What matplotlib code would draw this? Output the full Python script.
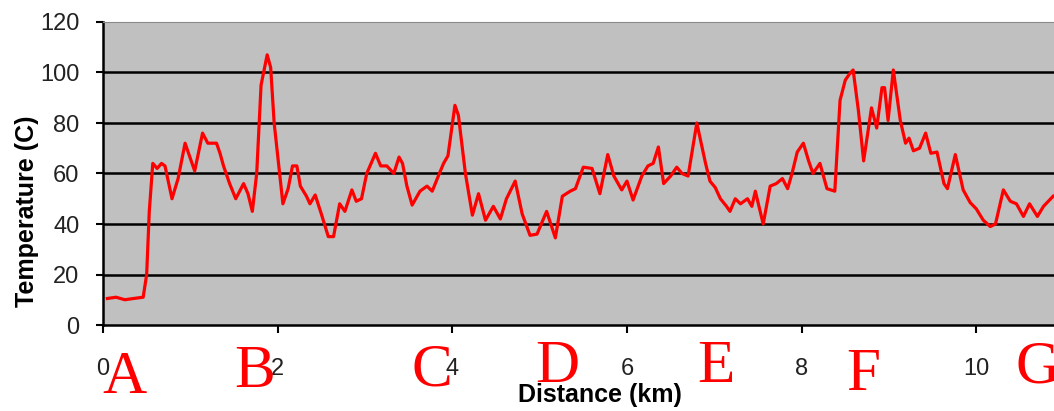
import matplotlib
matplotlib.use("Agg")
import matplotlib.pyplot as plt

# distance (km) and temperature (C)
distance = [0.05, 0.15, 0.25, 0.35, 0.46, 0.50, 0.53, 0.57, 0.62, 0.67, 0.71, 0.79, 0.86, 0.94, 0.99,
            1.05, 1.14, 1.20, 1.30, 1.34, 1.38, 1.45, 1.52, 1.61, 1.66, 1.71, 1.76, 1.81, 1.88, 1.92,
            1.96, 2.06, 2.12, 2.17, 2.22, 2.26, 2.33, 2.37, 2.43, 2.50, 2.58, 2.64, 2.71, 2.77, 2.85,
            2.90, 2.96, 3.02, 3.12, 3.18, 3.25, 3.33, 3.39, 3.43, 3.48, 3.54, 3.63, 3.71, 3.77, 3.84,
            3.90, 3.95, 4.03, 4.07, 4.15, 4.23, 4.30, 4.38, 4.47, 4.55, 4.62, 4.72, 4.80, 4.89, 4.97,
            5.08, 5.18, 5.26, 5.35, 5.41, 5.50, 5.60, 5.69, 5.78, 5.85, 5.94, 6.00, 6.07, 6.17, 6.24,
            6.30, 6.36, 6.42, 6.50, 6.57, 6.63, 6.70, 6.80, 6.90, 6.95, 7.01, 7.07, 7.14, 7.18, 7.24,
            7.30, 7.38, 7.43, 7.47, 7.56, 7.64, 7.71, 7.78, 7.84, 7.89, 7.95, 8.02, 8.08, 8.13, 8.21,
            8.29, 8.38, 8.44, 8.50, 8.55, 8.59, 8.65, 8.71, 8.80, 8.86, 8.92, 8.95, 8.99, 9.05, 9.13,
            9.19, 9.23, 9.28, 9.35, 9.42, 9.48, 9.55, 9.63, 9.67, 9.76, 9.85, 9.93, 10.00, 10.08, 10.16,
            10.22, 10.31, 10.39, 10.46, 10.54, 10.61, 10.70, 10.77, 10.88]
temperature = [10.5, 11, 10, 10.5, 11, 20, 45, 64, 62, 64, 63, 50, 58, 72, 67,
               61, 76, 72, 72, 68, 63, 56, 50, 56, 52, 45, 60, 95, 107, 102,
               80, 48, 54, 63, 63, 55, 51, 48, 51.5, 44, 35, 35, 48, 45, 53.5,
               49, 50, 60, 68, 63, 63, 60, 66.5, 64, 55, 47.5, 53, 55, 53, 59,
               64, 67, 87, 83, 60, 43.5, 52, 41.5, 47, 42, 50, 57, 44, 35.5, 36,
               45, 34.5, 51, 53, 54, 62.5, 62, 52, 67.5, 59, 53.5, 57, 49.5, 59, 63,
               64, 70.5, 56, 59, 62.5, 60, 59, 80, 64, 57, 54.5, 50, 47, 45, 50,
               48, 50, 47, 53, 40, 55, 56, 58, 54, 60, 68.5, 72, 65, 60, 64,
               54, 53, 89, 97, 99.5, 101, 85, 65, 86, 78, 94, 94, 81, 101, 81,
               72, 74, 69, 70, 76, 68, 68.5, 56, 54, 67.5, 53.5, 48.5, 46, 41.5, 39,
               40, 53.5, 49, 48, 43, 48, 43, 47, 51]

letters = ["A", "B", "C", "D", "E", "F", "G"]
letter_x = [0.25, 1.74, 3.77, 5.20, 7.02, 8.71, 10.70]
letter_y = [-0.175, -0.155, -0.150, -0.140, -0.140, -0.165, -0.140]

fig = plt.figure(figsize=(10.54, 4.11), dpi=100)
ax = fig.add_axes([103 / 1054, 86 / 411, 951 / 1054, 303 / 411])

ax.set_facecolor("#c0c0c0")
ax.plot(distance, temperature, color="#ff0000", linewidth=2.3)

ax.set_xlim(0, 10.89)
ax.set_ylim(0, 120)
ax.set_xticks([0, 2, 4, 6, 8, 10])
ax.set_yticks([0, 20, 40, 60, 80, 100, 120])
for y in [20, 40, 60, 80, 100]:
    ax.axhline(y, color="black", linewidth=1.8, zorder=1)

ax.spines["right"].set_visible(False)
ax.spines["top"].set_color("#8a8a8a")
ax.spines["left"].set_linewidth(1.8)
ax.spines["bottom"].set_linewidth(1.8)

ax.tick_params(axis="x", direction="out", length=6, width=1.5, pad=18,
               labelsize=17, labelcolor="#222222")
ax.tick_params(axis="y", direction="out", length=5, width=1.5, pad=12,
               labelsize=17, labelcolor="#222222")
for lab in ax.get_xticklabels() + ax.get_yticklabels():
    lab.set_family("Liberation Sans")

ax.set_xlabel("Distance (km)", fontsize=18, fontweight="bold", family="Liberation Sans")
ax.set_ylabel("Temperature (C)", fontsize=18, fontweight="bold", family="Liberation Sans")
ax.xaxis.set_label_coords(0.523, -0.232)
ax.xaxis.label.set_va("center")
ax.yaxis.set_label_coords(-0.080, 0.376)
ax.yaxis.label.set_va("center")

for t, x, y in zip(letters, letter_x, letter_y):
    ax.text(x, y, t, transform=ax.get_xaxis_transform(), color="#ff0000",
            fontsize=44, family="Liberation Serif", ha="center", va="center",
            clip_on=False)

fig.savefig("out.png", dpi=100)
